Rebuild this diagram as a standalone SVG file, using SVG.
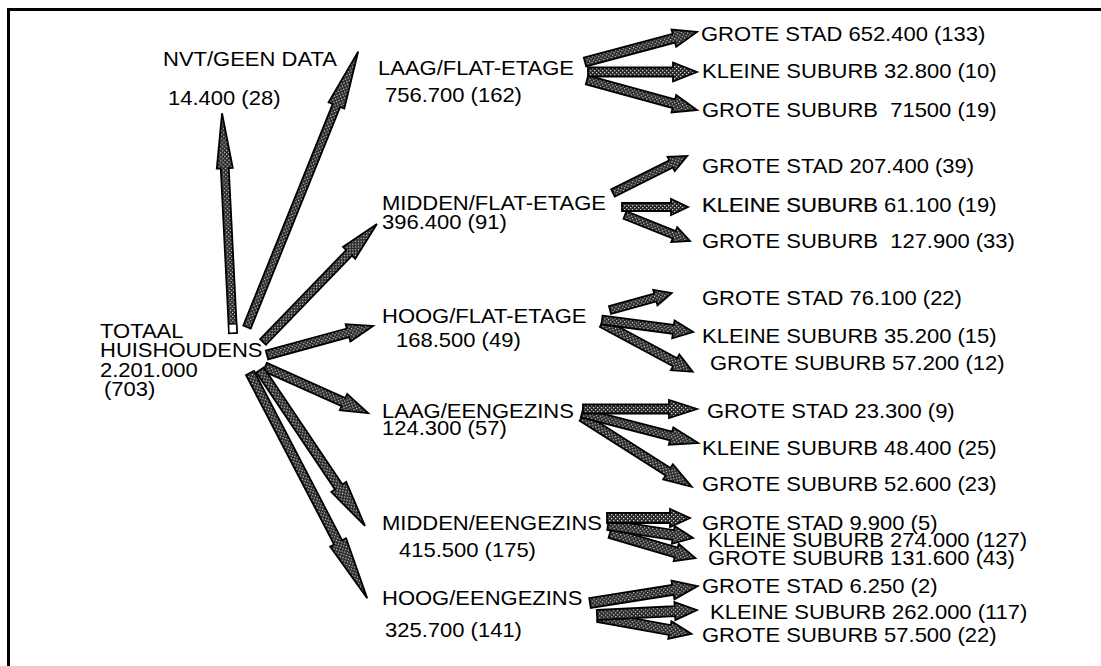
<svg xmlns="http://www.w3.org/2000/svg" width="1101" height="666" viewBox="0 0 1101 666">
  <defs>
    <!-- knitted dark texture used inside every arrow -->
    <pattern id="knit" patternUnits="userSpaceOnUse" width="4" height="4">
      <rect width="4" height="4" fill="#262626"/>
      <rect x="0" y="0" width="1.3" height="1.3" fill="#cfcfcf"/>
      <rect x="2" y="2" width="1.3" height="1.3" fill="#cfcfcf"/>
    </pattern>
    <style>
      .arrow { fill: url(#knit); stroke: #000; stroke-width: 1.8; stroke-linejoin: miter; }
      .tail { fill: #fff; stroke: #000; stroke-width: 1.4; }
      text { font-family: "Liberation Sans", Arial, sans-serif; font-size: 20px; fill: #000; }
      .heavy { stroke: #000; stroke-width: 0.25; }
      .frame { fill: none; stroke: #000; stroke-width: 3; }
    </style>
  </defs>

  <rect width="1101" height="666" fill="#fff"/>

  <!-- frame: top and left edges only -->
  <path class="frame" d="M8.5,680 V9.5 H1110"/>

  <!-- connectors -->
  <g id="connectors">
    <!-- from TOTAAL HUISHOUDENS -->
    <g transform="translate(233,333) rotate(-92.86)">
      <path class="arrow" d="M0,-4H165V-8L220,0L165,8V4H0Z"/>
      <rect class="tail" x="0" y="-4" width="9" height="8"/>
    </g>
    <path class="arrow" transform="translate(247,327) rotate(-68.02)" d="M0,-4H239V-8.5L297,0L239,8.5V4H0Z"/>
    <path class="arrow" transform="translate(263,342) rotate(-46)" d="M0,-4H124V-8.5L164,0L124,8.5V4H0Z"/>
    <path class="arrow" transform="translate(267,355) rotate(-15.3)" d="M0,-4.5H84V-9L110,0L84,9V4.5H0Z"/>
    <path class="arrow" transform="translate(265,367) rotate(24.1)" d="M0,-4.5H86V-9L113,0L86,9V4.5H0Z"/>
    <path class="arrow" transform="translate(250,373) rotate(62.52)" d="M0,-4.5H191V-9L254,0L191,9V4.5H0Z"/>
    <path class="arrow" transform="translate(260,370) rotate(56.06)" d="M0,-4.5H141V-9L188,0L141,9V4.5H0Z"/>

    <!-- from LAAG/FLAT-ETAGE -->
    <path class="arrow" transform="translate(585,62) rotate(-15)" d="M0,-4.5H92V-9L116,0L92,9V4.5H0Z"/>
    <path class="arrow" transform="translate(587,80) rotate(15.26)" d="M0,-4.5H90V-9L114,0L90,9V4.5H0Z"/>
    <path class="arrow" transform="translate(588,72)" d="M0,-4.5H85V-9.5L109,0L85,9.5V4.5H0Z"/>

    <!-- from MIDDEN/FLAT-ETAGE -->
    <path class="arrow" transform="translate(613,193) rotate(-26.57)" d="M0,-4H65V-8L83,0L65,8V4H0Z"/>
    <path class="arrow" transform="translate(625,215) rotate(21.8)" d="M0,-4H53V-8L70,0L53,8V4H0Z"/>
    <path class="arrow" transform="translate(622,207)" d="M0,-4H49V-8L66,0L49,8V4H0Z"/>

    <!-- from HOOG/FLAT-ETAGE -->
    <path class="arrow" transform="translate(610,310) rotate(-15.33)" d="M0,-4H47V-8L64,0L47,8V4H0Z"/>
    <path class="arrow" transform="translate(602,323) rotate(28.3)" d="M0,-4.5H83V-9L103,0L83,9V4.5H0Z"/>
    <path class="arrow" transform="translate(602,320) rotate(7.51)" d="M0,-4.5H72V-9L92,0L72,9V4.5H0Z"/>

    <!-- from LAAG/EENGEZINS -->
    <path class="arrow" transform="translate(582,417) rotate(32.47)" d="M0,-4.5H102V-9L130,0L102,9V4.5H0Z"/>
    <path class="arrow" transform="translate(582,413) rotate(14.5)" d="M0,-4.5H92V-9L120,0L92,9V4.5H0Z"/>
    <path class="arrow" transform="translate(583,409)" d="M0,-4.5H86V-9L114,0L86,9V4.5H0Z"/>

    <!-- from MIDDEN/EENGEZINS -->
    <path class="arrow" transform="translate(610,533) rotate(16.39)" d="M0,-5H69V-9L89,0L69,9V5H0Z"/>
    <path class="arrow" transform="translate(608,525) rotate(8.7)" d="M0,-5H66V-9L86,0L66,9V5H0Z"/>
    <path class="arrow" transform="translate(607,518)" d="M0,-5H63V-9L83,0L63,9V5H0Z"/>

    <!-- from HOOG/EENGEZINS -->
    <path class="arrow" transform="translate(598,617) rotate(10.25)" d="M0,-5H73V-9L95,0L73,9V5H0Z"/>
    <path class="arrow" transform="translate(597,615) rotate(-2.86)" d="M0,-5H78V-9L100,0L78,9V5H0Z"/>
    <path class="arrow" transform="translate(590,603) rotate(-8.95)" d="M0,-5H84V-9.5L109,0L84,9.5V5H0Z"/>
  </g>

  <!-- root -->
  <g id="totaal">
    <text transform="translate(100 338) scale(1.1 1)">TOTAAL</text>
    <text transform="translate(100 357) scale(1.1 1)">HUISHOUDENS</text>
    <text transform="translate(100 377) scale(1.1 1)">2.201.000</text>
    <text transform="translate(104 396) scale(1.1 1)">(703)</text>
  </g>

  <!-- first level -->
  <g id="nvt">
    <text transform="translate(163 66) scale(1.1 1)">NVT/GEEN DATA</text>
    <text transform="translate(168 105) scale(1.1 1)">14.400 (28)</text>
  </g>
  <g id="laag-flat">
    <text transform="translate(378 75) scale(1.1 1)">LAAG/FLAT-ETAGE</text>
    <text transform="translate(385 102) scale(1.1 1)">756.700 (162)</text>
  </g>
  <g id="midden-flat">
    <text transform="translate(382 210) scale(1.1 1)">MIDDEN/FLAT-ETAGE</text>
    <text transform="translate(382 229) scale(1.1 1)">396.400 (91)</text>
  </g>
  <g id="hoog-flat">
    <text transform="translate(382 323) scale(1.1 1)">HOOG/FLAT-ETAGE</text>
    <text transform="translate(396 347) scale(1.1 1)">168.500 (49)</text>
  </g>
  <g id="laag-eengezins">
    <text transform="translate(382 418) scale(1.1 1)">LAAG/EENGEZINS</text>
    <text transform="translate(382 435) scale(1.1 1)">124.300 (57)</text>
  </g>
  <g id="midden-eengezins">
    <text transform="translate(382 530) scale(1.1 1)">MIDDEN/EENGEZINS</text>
    <text transform="translate(399 557) scale(1.1 1)">415.500 (175)</text>
  </g>
  <g id="hoog-eengezins">
    <text transform="translate(382 605) scale(1.1 1)">HOOG/EENGEZINS</text>
    <text transform="translate(385 637) scale(1.1 1)">325.700 (141)</text>
  </g>

  <!-- second level: LAAG/FLAT-ETAGE -->
  <g id="lf-stad"><text transform="translate(701 41) scale(1.1 1)">GROTE STAD 652.400 (133)</text></g>
  <g id="lf-klein"><text transform="translate(702 78) scale(1.1 1)">KLEINE SUBURB 32.800 (10)</text></g>
  <g id="lf-groot"><text transform="translate(702 117) scale(1.1 1)">GROTE SUBURB&#160; 71500 (19)</text></g>

  <!-- second level: MIDDEN/FLAT-ETAGE -->
  <g id="mf-stad"><text transform="translate(702 173) scale(1.1 1)">GROTE STAD 207.400 (39)</text></g>
  <g id="mf-klein"><text transform="translate(702 212) scale(1.1 1)"><tspan class="heavy">KLEINE SUBURB</tspan> 61.100 (19)</text></g>
  <g id="mf-groot"><text transform="translate(702 248) scale(1.1 1)">GROTE SUBURB&#160; 127.900 (33)</text></g>

  <!-- second level: HOOG/FLAT-ETAGE -->
  <g id="hf-stad"><text transform="translate(702 305) scale(1.1 1)">GROTE STAD 76.100 (22)</text></g>
  <g id="hf-klein"><text transform="translate(702 343) scale(1.1 1)">KLEINE SUBURB 35.200 (15)</text></g>
  <g id="hf-groot"><text transform="translate(710 370) scale(1.1 1)">GROTE SUBURB 57.200 (12)</text></g>

  <!-- second level: LAAG/EENGEZINS -->
  <g id="le-stad"><text transform="translate(707 418) scale(1.1 1)">GROTE STAD 23.300 (9)</text></g>
  <g id="le-klein"><text transform="translate(702 455) scale(1.1 1)">KLEINE SUBURB 48.400 (25)</text></g>
  <g id="le-groot"><text transform="translate(702 491) scale(1.1 1)">GROTE SUBURB 52.600 (23)</text></g>

  <!-- second level: MIDDEN/EENGEZINS -->
  <g id="me-stad"><text transform="translate(702 530) scale(1.1 1)">GROTE STAD 9.900 (5)</text></g>
  <g id="me-klein"><text transform="translate(708 547) scale(1.1 1)">KLEINE SUBURB 274.000 (127)</text></g>
  <g id="me-groot"><text transform="translate(708 565) scale(1.1 1)">GROTE SUBURB 131.600 (43)</text></g>

  <!-- second level: HOOG/EENGEZINS -->
  <g id="he-stad"><text transform="translate(702 593) scale(1.1 1)">GROTE STAD 6.250 (2)</text></g>
  <g id="he-klein"><text transform="translate(710 619) scale(1.1 1)">KLEINE SUBURB 262.000 (117)</text></g>
  <g id="he-groot"><text transform="translate(702 642) scale(1.1 1)">GROTE SUBURB 57.500 (22)</text></g>
</svg>
